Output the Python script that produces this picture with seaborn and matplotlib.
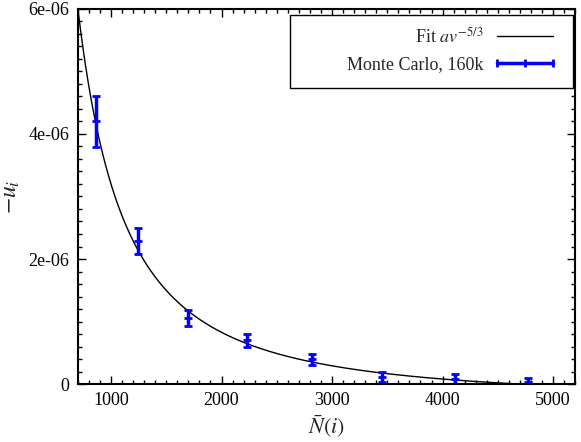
import numpy as np
import pandas as pd
import matplotlib
matplotlib.use("Agg")
import matplotlib.pyplot as plt
from matplotlib.ticker import MultipleLocator, FuncFormatter
from matplotlib.lines import Line2D
from matplotlib.patches import Rectangle
import seaborn as sns

# Monte Carlo estimates (160k samples)
n_bar = [860, 1240, 1700, 2230, 2820, 3450, 4110, 4770]
u_neg = [4.20e-6, 2.29e-6, 1.06e-6, 0.70e-6, 0.395e-6, 0.11e-6, 0.075e-6, 0.037e-6]
u_err = [0.41e-6, 0.21e-6, 0.13e-6, 0.10e-6, 0.09e-6, 0.08e-6, 0.09e-6, 0.065e-6]

# Fit parameters for a*v^(-5/3) + b
fit_a = 0.346
fit_b = -0.346 * 4700.0 ** (-5.0 / 3.0)

sns.set_theme(style="ticks")
plt.rcParams["font.family"] = ["Liberation Serif", "DejaVu Serif"]
plt.rcParams["mathtext.fontset"] = "stix"

fig = plt.figure(figsize=(5.81, 4.42), dpi=100)
ax = fig.add_axes([0.134, 0.131, 0.856, 0.849])

v = np.linspace(700, 5200, 600)
fit_df = pd.DataFrame({"v": v, "u": fit_a * v ** (-5.0 / 3.0) + fit_b})
sns.lineplot(data=fit_df, x="v", y="u", color="black", lw=1.0, ax=ax)

mc = pd.DataFrame({"n": n_bar, "u": u_neg, "err": u_err})
ax.errorbar(mc["n"], mc["u"], yerr=mc["err"], fmt="_", color="#0000ff",
            ms=6, mew=2, elinewidth=2.5, capsize=3, capthick=2)

ax.set_xlim(700, 5200)
ax.set_ylim(0, 6e-6)
ax.xaxis.set_major_locator(MultipleLocator(1000))
ax.xaxis.set_minor_locator(MultipleLocator(100))
ax.yaxis.set_major_locator(MultipleLocator(2e-6))
ax.yaxis.set_minor_locator(MultipleLocator(0.2e-6))
ax.yaxis.set_major_formatter(FuncFormatter(
    lambda y, p: "0" if abs(y) < 1e-12 else "%de-06" % round(y * 1e6)))

ax.tick_params(which="both", direction="in", top=True, right=True,
               labelsize=13, colors="black", pad=6)
ax.tick_params(which="major", length=6, width=1)
ax.tick_params(which="minor", length=3, width=1)
for s in ax.spines.values():
    s.set_linewidth(1.5)
    s.set_color("black")

ax.set_xlabel(r"$\bar{N}(i)$", fontsize=16, labelpad=3)
ax.set_ylabel(r"$-u_i$", fontsize=17)
ax.yaxis.set_label_coords(-0.113, 0.5)

# key box
ax.add_patch(Rectangle((0.4266, 0.789), 0.5694, 0.195, transform=ax.transAxes,
                       facecolor="white", edgecolor="black", lw=1.0, zorder=4))

fit_handle = Line2D([], [], color="black", lw=1.0)
mc_handle = Line2D([], [], color="#0000ff", lw=2.5, marker="|", ms=6, mew=2)
leg = ax.legend([fit_handle, mc_handle],
                [r"Fit $av^{-5/3}$", "Monte Carlo, 160k"],
                loc="upper right", markerfirst=False, numpoints=3,
                frameon=False, fontsize=13, handlelength=3.7,
                handletextpad=0.48, borderpad=0, borderaxespad=0,
                labelspacing=0.55, bbox_to_anchor=(0.9666, 0.953))
leg.set_zorder(5)

fig.savefig("out.png", dpi=100)
